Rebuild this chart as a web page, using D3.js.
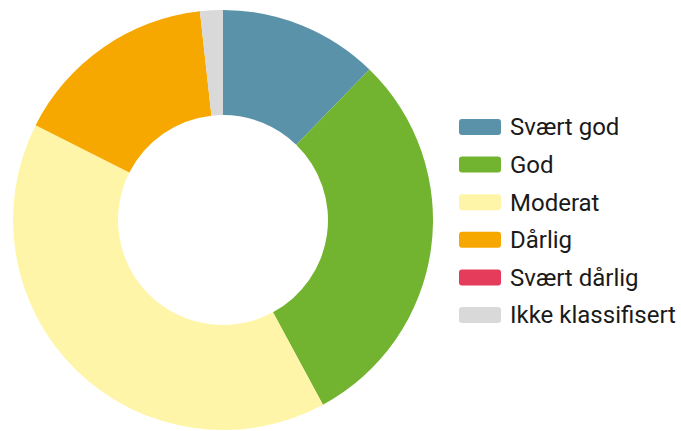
<!DOCTYPE html>
<html>
<head>
<meta charset="utf-8">
<script src="https://cdn.jsdelivr.net/npm/d3@7"></script>
<style>
  html, body { margin: 0; padding: 0; background: #fff; }
  svg { display: block; }
</style>
</head>
<body>
<svg id="chart" width="681" height="431"></svg>
<script>
const categories = ["Svært god", "God", "Moderat", "Dårlig", "Svært dårlig", "Ikke klassifisert"];
const values = [7, 17, 23, 9, 0, 1];
const colors = ["#5a93a9", "#72b32f", "#fff5a8", "#f7a800", "#e63c5c", "#d9d9d9"];

const svg = d3.select("#chart");
const cx = 223, cy = 220, outerR = 210, innerR = 105;

const data = categories.map((c, i) => ({ name: c, value: values[i], color: colors[i] }));
const pie = d3.pie().value(d => d.value).sort(null);
const arc = d3.arc().innerRadius(innerR).outerRadius(outerR);

svg.append("g")
  .attr("transform", `translate(${cx},${cy})`)
  .selectAll("path")
  .data(pie(data))
  .join("path")
  .attr("d", arc)
  .attr("fill", d => d.data.color);

const legendY = d3.scalePoint().domain(categories).range([127, 315]);
const lg = svg.append("g");
const item = lg.selectAll("g").data(data).join("g")
  .attr("transform", d => `translate(459,${legendY(d.name)})`);
item.append("rect")
  .attr("x", 0).attr("y", -8).attr("width", 42).attr("height", 16)
  .attr("rx", 3).attr("fill", d => d.color);
item.append("text")
  .attr("x", 51).attr("y", 0).attr("dy", "0.35em")
  .attr("font-family", "Roboto, sans-serif")
  .attr("font-size", 24)
  .attr("fill", "#1a1a1a")
  .text(d => d.name);
</script>
</body>
</html>
